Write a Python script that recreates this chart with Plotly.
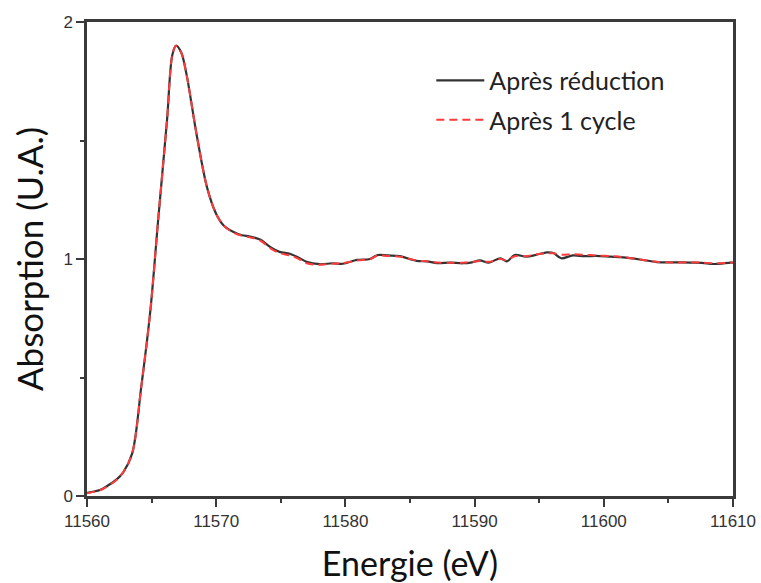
import plotly.graph_objects as go

energy = [11560, 11561, 11561.5, 11562.3, 11562.8, 11563.5, 11564.2, 11564.9, 11565.5, 11566.2,
          11566.6, 11566.9, 11567.3, 11567.7, 11568.5, 11569.3, 11570.0, 11570.6, 11571.3, 11572.0,
          11572.6, 11573.4, 11574.2, 11574.9, 11575.7, 11576.4, 11577.0, 11578.0, 11579.0, 11579.8,
          11580.9, 11581.9, 11582.5, 11583.3, 11584.2, 11585.5, 11586.3, 11587.1, 11588.1, 11589.1,
          11589.8, 11590.4, 11591.1, 11592.0, 11592.5, 11593.1, 11594.0, 11594.8, 11595.6, 11596.1,
          11596.7, 11597.6, 11598.5, 11599.4, 11600.5, 11601.5, 11602.8, 11604.1, 11605.4, 11606.7,
          11607.6, 11608.5, 11609.8, 11610]

apres_reduction = [0.013, 0.025, 0.04, 0.07, 0.10, 0.18, 0.46, 0.78, 1.16, 1.59,
                   1.86, 1.90, 1.87, 1.78, 1.52, 1.30, 1.19, 1.14, 1.115, 1.10,
                   1.095, 1.082, 1.05, 1.03, 1.022, 1.005, 0.988, 0.978, 0.982, 0.98,
                   0.996, 1.0, 1.017, 1.015, 1.012, 0.992, 0.99, 0.983, 0.985, 0.982,
                   0.986, 0.994, 0.985, 1.003, 0.99, 1.017, 1.01, 1.018, 1.028, 1.025,
                   1.003, 1.015, 1.012, 1.013, 1.01, 1.007, 0.998, 0.987, 0.986, 0.985,
                   0.984, 0.979, 0.985, 0.985]

apres_1_cycle = [0.012, 0.024, 0.038, 0.068, 0.10, 0.18, 0.46, 0.78, 1.16, 1.59,
                 1.86, 1.90, 1.87, 1.78, 1.52, 1.30, 1.19, 1.14, 1.112, 1.098,
                 1.092, 1.078, 1.045, 1.025, 1.015, 1.0, 0.982, 0.976, 0.98, 0.982,
                 0.994, 1.0, 1.014, 1.013, 1.01, 0.994, 0.99, 0.985, 0.984, 0.984,
                 0.988, 0.992, 0.988, 1.0, 0.995, 1.012, 1.012, 1.02, 1.024, 1.024,
                 1.018, 1.02, 1.018, 1.015, 1.012, 1.008, 0.998, 0.988, 0.985, 0.986,
                 0.985, 0.982, 0.984, 0.985]

x_ticks = [11560, 11570, 11580, 11590, 11600, 11610]
y_ticks = [0, 1, 2]

fig = go.Figure()
fig.add_trace(go.Scatter(x=energy, y=apres_reduction, mode="lines", name="Après réduction",
                         legendgroup="a",
                         line=dict(color="#333333", width=2.2, shape="spline", smoothing=0.9)))
fig.add_trace(go.Scatter(x=energy, y=apres_1_cycle, mode="lines", name="Après 1 cycle",
                         legendgroup="b",
                         line=dict(color="#ff3b3b", width=2, dash="8px,5px", shape="spline", smoothing=0.9)))

fig.update_layout(
    width=761, height=583,
    margin=dict(l=87, r=28, t=22, b=87),
    paper_bgcolor="white", plot_bgcolor="white",
    showlegend=True,
    legend=dict(x=0.533, y=0.925, xanchor="left", yanchor="top", itemwidth=48,
                traceorder="grouped", tracegroupgap=4,
                bgcolor="rgba(0,0,0,0)", font=dict(family="Lato", size=25, color="#222222")),
    xaxis=dict(range=[11560, 11610], tickvals=x_ticks, ticktext=[str(v) for v in x_ticks],
               automargin=False,
               showgrid=False, zeroline=False, showline=True, linecolor="#3a3a3a", linewidth=2.5,
               mirror=True, ticks="outside", ticklen=8, tickwidth=2, tickcolor="#3a3a3a",
               minor=dict(dtick=5, tick0=11560, ticks="outside", ticklen=4, tickwidth=2, tickcolor="#3a3a3a"),
               tickfont=dict(family="Liberation Sans", size=17, color="#333333"),
               title=dict(text="Energie (eV)", font=dict(family="Lato", size=34, color="#111111"), standoff=36)),
    yaxis=dict(range=[0, 2], tickvals=y_ticks, ticktext=[str(v) for v in y_ticks],
               automargin=False,
               showgrid=False, zeroline=False, showline=True, linecolor="#3a3a3a", linewidth=2.5,
               mirror=True, ticks="outside", ticklen=8, tickwidth=2, tickcolor="#3a3a3a",
               minor=dict(dtick=0.5, tick0=0, ticks="outside", ticklen=4, tickwidth=2, tickcolor="#3a3a3a"),
               tickfont=dict(family="Liberation Sans", size=17, color="#333333"),
               title=dict(text="Absorption (U.A.)", font=dict(family="Lato", size=35, color="#111111"), standoff=10)),
)

fig.write_html("out.html", config={"displayModeBar": False},
               post_script="document.body.style.margin='0px';")
